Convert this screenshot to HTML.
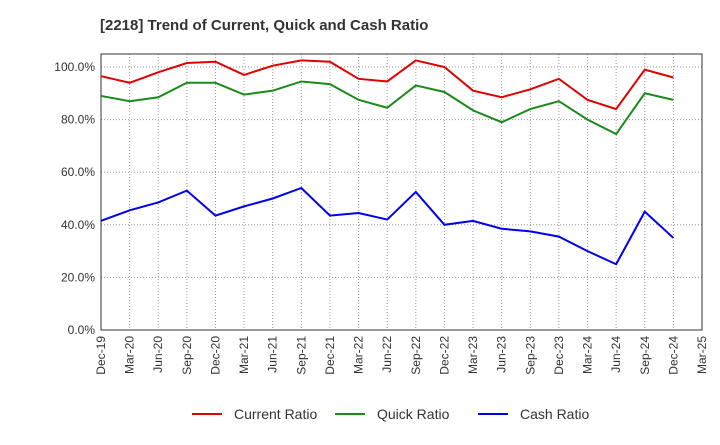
<!DOCTYPE html>
<html><head><meta charset="utf-8"><style>
body{margin:0;background:#fff;font-family:"Liberation Sans",sans-serif;}
</style></head><body>
<svg id="chart" width="720" height="440" xmlns="http://www.w3.org/2000/svg">
<text x="100" y="30" font-size="15" font-weight="bold" fill="#333">[2218]  Trend of Current, Quick and Cash Ratio</text>
<g id="grid"></g><g id="axes"></g><g id="series"></g><g id="legend"></g>
</svg>
<script>
const categories=["Dec-19","Mar-20","Jun-20","Sep-20","Dec-20","Mar-21","Jun-21","Sep-21","Dec-21","Mar-22","Jun-22","Sep-22","Dec-22","Mar-23","Jun-23","Sep-23","Dec-23","Mar-24","Jun-24","Sep-24","Dec-24","Mar-25"];
const currentRatio=[96.5,94,98,101.5,102,97,100.5,102.5,102,95.5,94.5,102.5,100,91,88.5,91.5,95.5,87.5,84,99,96];
const quickRatio=[89,87,88.5,94,94,89.5,91,94.5,93.5,87.5,84.5,93,90.5,83.5,79,84,87,80,74.5,90,87.5];
const cashRatio=[41.5,45.5,48.5,53,43.5,47,50,54,43.5,44.5,42,52.5,40,41.5,38.5,37.5,35.5,30,25,45,35];
const yTicks=[0,20,40,60,80,100];
const NS="http://www.w3.org/2000/svg";
const L=101,R=702,T=54,B=330;
const x=i=>L+i*(R-L)/(categories.length-1);
const y=v=>B-v*(B-67)/100;
function mk(tag,attrs,parent){const e=document.createElementNS(NS,tag);for(const k in attrs)e.setAttribute(k,attrs[k]);parent.appendChild(e);return e;}
const grid=document.getElementById('grid'),axes=document.getElementById('axes'),series=document.getElementById('series'),legend=document.getElementById('legend');
categories.forEach((c,i)=>{
 const gl=mk('line',{x1:x(i),x2:x(i),y1:T,y2:B,stroke:'#999','stroke-dasharray':'1,2'},grid);
 
 const t=mk('text',{x:0,y:0,'font-size':12,fill:'#333','text-anchor':'end',transform:`translate(${x(i)+4},${B+6}) rotate(-90)`},axes);
 t.textContent=c;
 
});
yTicks.forEach(v=>{
 const gl=mk('line',{x1:L,x2:R,y1:y(v),y2:y(v),stroke:'#999','stroke-dasharray':'1,2'},grid);
 
 const t=mk('text',{x:L-6,y:y(v)+4,'font-size':12,fill:'#333','text-anchor':'end'},axes);
 t.textContent=v.toFixed(1)+'%';
 
});
const fr=mk('rect',{x:L,y:T,width:R-L,height:B-T,fill:'none',stroke:'#333'},axes);

const defs=[["current-ratio-line",currentRatio,"#e00000","Current Ratio"],["quick-ratio-line",quickRatio,"#1a8a1a","Quick Ratio"],["cash-ratio-line",cashRatio,"#0000ee","Cash Ratio"]];
defs.forEach((d,k)=>{
 const p=mk('polyline',{points:d[1].map((v,i)=>x(i)+','+y(v)).join(' '),fill:'none',stroke:d[2],'stroke-width':2},series);
 
 const lx=[192,335,478][k];
 const ll=mk('line',{x1:lx,x2:lx+30,y1:414,y2:414,stroke:d[2],'stroke-width':2},legend);
 
 const lt=mk('text',{x:lx+42,y:419,'font-size':14,fill:'#333'},legend);
 lt.textContent=d[3];
 
});
</script>
</body></html>
